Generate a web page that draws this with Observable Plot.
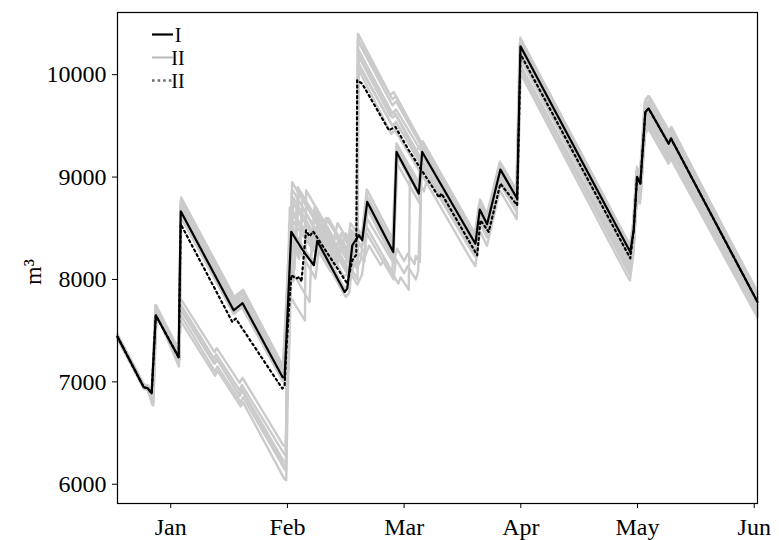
<!DOCTYPE html>
<html>
<head>
<meta charset="utf-8">
<script src="https://cdn.jsdelivr.net/npm/d3@7"></script>
<script src="https://cdn.jsdelivr.net/npm/@observablehq/plot@0.6"></script>
<style>
  html, body { margin: 0; padding: 0; background: white; }
  #chart { position: relative; width: 779px; height: 540px; }
</style>
</head>
<body>
<div id="chart"></div>
<script>
// x positions are in "months" on the evenly spaced month axis (0 = Jan, 5 = Jun)
const monthTicks = [0, 1, 2, 3, 4, 5];
const monthLabels = ["Jan", "Feb", "Mar", "Apr", "May", "Jun"];
const yTicks = [6000, 7000, 8000, 9000, 10000];
const legendLabels = ["I", "II", "II"];
const yLabel = "m³";

// Series I (black solid)
const seriesI = [[-0.456,7440],[-0.231,6947],[-0.197,6938],[-0.163,6889],[-0.128,7650],[0.068,7240],[0.086,8666],[0.539,7699],[0.616,7768],[0.959,7045],[0.976,7045],[1.033,8464],[1.141,8268],[1.227,8139],[1.256,8376],[1.490,7878],[1.513,7911],[1.556,8334],[1.584,8383],[1.612,8432],[1.641,8383],[1.684,8757],[1.907,8268],[1.935,9245],[2.126,8839],[2.155,9245],[2.568,8432],[2.611,8350],[2.648,8683],[2.711,8539],[2.825,9073],[2.968,8790],[2.997,10277],[3.938,8268],[3.967,8480],[3.996,9001],[4.024,8936],[4.067,9636],[4.095,9669],[4.266,9327],[4.287,9376],[5.028,7780]];

// Series II (black dotted)
const seriesIIdotted = [[-0.456,7440],[-0.231,6947],[-0.197,6938],[-0.163,6889],[-0.128,7650],[0.068,7240],[0.086,8540],[0.528,7585],[0.557,7618],[0.956,6935],[0.976,6960],[0.99,7300],[1.033,8041],[1.076,8009],[1.105,8025],[1.12,7976],[1.16,8480],[1.19,8420],[1.22,8470],[1.513,7960],[1.556,8188],[1.59,8240],[1.598,9945],[1.64,9913],[1.87,9457],[1.925,9490],[2.04,9262],[2.3,8800],[2.32,8840],[2.626,8236],[2.654,8578],[2.725,8464],[2.825,8936],[2.968,8725],[2.997,10200],[3.938,8207],[3.967,8480],[3.996,9001],[4.024,8936],[4.067,9636],[4.095,9669],[4.266,9327],[4.287,9376],[5.028,7780]];

// Series II ensemble (grey runs)
const run01 = [[-0.456,7465],[-0.23,6975],[-0.19,6965],[-0.15,6880],[-0.125,7745],[0.075,7300],[0.09,8800],[0.545,7830],[0.62,7900],[0.965,7150],[1.03,8600],[1.14,8420],[1.22,8290],[1.25,8520],[1.48,8030],[1.52,8060],[1.55,8480],[1.6,8400],[1.64,8440],[1.68,8880],[1.9,8400],[1.935,9330],[2.13,8930],[2.16,9350],[2.57,8520],[2.61,8450],[2.65,8780],[2.71,8640],[2.82,9150],[2.965,8870],[2.995,10360],[3.935,8330],[3.965,8560],[3.995,9100],[4.02,9020],[4.06,9720],[4.09,9790],[4.26,9420],[4.285,9470],[5.028,7880]];
const run02 = [[-0.456,7430],[-0.23,6930],[-0.2,6925],[-0.16,6860],[-0.13,7700],[0.07,7230],[0.085,8720],[0.54,7760],[0.61,7820],[0.96,7090],[1.02,8050],[1.05,7980],[1.09,8900],[1.3,8500],[1.33,8600],[1.58,8150],[1.62,8250],[1.66,8170],[1.68,8600],[1.91,8160],[1.94,8300],[2.0,8180],[2.03,8250],[2.09,8150],[2.1,8230],[2.135,8170],[2.15,9220],[2.57,8400],[2.615,8330],[2.65,8650],[2.72,8520],[2.83,9030],[2.97,8750],[3.0,10200],[3.94,8200],[3.97,8430],[4.0,8950],[4.025,8880],[4.07,9580],[4.1,9620],[4.27,9280],[4.29,9330],[5.028,7720]];
const run03 = [[-0.456,7445],[-0.23,6955],[-0.19,6945],[-0.16,6820],[-0.12,7680],[0.07,7180],[0.088,8650],[0.535,7720],[0.6,7790],[0.955,7060],[1.0,7120],[1.04,8350],[1.1,8200],[1.13,8700],[1.4,8150],[1.45,8300],[1.56,8100],[1.6,8500],[1.64,8420],[1.67,8720],[1.905,8200],[1.94,9280],[2.125,8880],[2.15,9290],[2.56,8470],[2.6,8390],[2.64,8720],[2.7,8580],[2.815,9100],[2.96,8820],[2.99,10300],[3.93,8290],[3.96,8520],[3.99,9060],[4.02,8980],[4.065,9680],[4.09,9730],[4.265,9380],[4.29,9420],[5.028,7830]];
const run04 = [[-0.456,7440],[-0.23,6945],[-0.2,6935],[-0.165,6900],[-0.13,7660],[0.065,7250],[0.086,8690],[0.54,7740],[0.615,7800],[0.96,7080],[0.98,7070],[1.035,8500],[1.14,8300],[1.23,8170],[1.26,8410],[1.49,7910],[1.515,7940],[1.555,8370],[1.64,8420],[1.685,8790],[1.905,8300],[1.935,9270],[2.125,8870],[2.155,9270],[2.57,8460],[2.61,8380],[2.648,8710],[2.71,8570],[2.825,9100],[2.968,8820],[2.997,10310],[3.938,8300],[3.967,8510],[3.996,9040],[4.024,8970],[4.067,9670],[4.095,9700],[4.266,9360],[4.287,9410],[5.028,7810]];
const run05 = [[-0.456,7420],[-0.23,6935],[-0.19,6920],[-0.15,6790],[-0.12,7720],[0.07,7210],[0.09,8760],[0.55,7800],[0.62,7870],[0.965,7120],[1.0,7150],[1.05,8800],[1.3,8300],[1.34,8450],[1.5,8150],[1.54,8550],[1.595,8460],[1.61,10180],[1.88,9600],[1.91,9640],[2.1,9250],[2.13,9300],[2.57,8420],[2.61,8340],[2.65,8690],[2.71,8550],[2.825,9090],[2.965,8800],[2.995,10250],[3.935,8250],[3.965,8470],[3.995,8990],[4.02,8930],[4.065,9620],[4.095,9660],[4.265,9320],[4.285,9370],[5.028,7770]];
const run06 = [[-0.456,7455],[-0.23,6960],[-0.2,6955],[-0.16,6870],[-0.13,7700],[0.07,7270],[0.087,8780],[0.54,7810],[0.62,7880],[0.96,7110],[1.03,8700],[1.15,8460],[1.2,8380],[1.24,8650],[1.45,8250],[1.5,8450],[1.59,8250],[1.605,10120],[1.9,9500],[1.93,9530],[2.15,9150],[2.57,8380],[2.61,8300],[2.65,8640],[2.72,8500],[2.83,9050],[2.97,8760],[3.0,10150],[3.94,8150],[3.97,8380],[4.0,8920],[4.03,8850],[4.07,9560],[4.1,9590],[4.27,9250],[4.29,9300],[5.028,7700]];
const run07 = [[-0.456,7435],[-0.23,6945],[-0.19,6935],[-0.155,6830],[-0.125,7670],[0.075,7220],[0.09,8600],[0.545,7680],[0.615,7750],[0.96,7030],[1.0,7060],[1.02,8150],[1.06,8100],[1.1,8850],[1.42,8300],[1.46,8450],[1.57,8250],[1.6,8330],[1.61,10050],[1.89,9420],[1.92,9460],[2.2,8930],[2.23,8980],[2.56,8330],[2.605,8260],[2.645,8600],[2.71,8460],[2.82,8990],[2.965,8700],[2.995,10080],[3.935,8080],[3.965,8320],[3.995,8860],[4.02,8800],[4.065,9500],[4.095,9540],[4.265,9200],[4.285,9250],[5.028,7650]];
const run08 = [[-0.456,7440],[-0.23,6950],[-0.19,6940],[-0.16,6800],[-0.13,7750],[0.065,7280],[0.08,7820],[0.375,7290],[0.395,7330],[0.59,6990],[0.615,7040],[0.965,6380],[0.985,6370],[1.04,8950],[1.3,8450],[1.35,8600],[1.55,8200],[1.57,8280],[1.6,8220],[1.605,10400],[1.88,9800],[1.91,9830],[2.2,9230],[2.57,8480],[2.61,8400],[2.65,8740],[2.71,8600],[2.825,9130],[2.97,8850],[2.998,10340],[3.94,8320],[3.97,8540],[4.0,9080],[4.025,9000],[4.07,9760],[4.1,9790],[4.27,9450],[4.29,9490],[5.028,7860]];
const run09 = [[-0.456,7425],[-0.23,6935],[-0.2,6930],[-0.15,6770],[-0.12,7700],[0.07,7170],[0.085,7700],[0.37,7180],[0.39,7230],[0.585,6880],[0.61,6930],[0.97,6220],[0.99,6210],[1.0,7850],[1.04,7800],[1.15,7600],[1.16,8870],[1.4,8400],[1.43,8550],[1.56,8300],[1.58,8370],[1.6,8330],[1.605,10330],[1.9,9700],[1.93,9740],[2.2,9200],[2.57,8450],[2.61,8370],[2.65,8700],[2.71,8560],[2.82,9110],[2.965,8830],[2.995,10290],[3.935,8280],[3.965,8500],[3.995,9030],[4.02,8960],[4.065,9700],[4.095,9730],[4.265,9400],[4.285,9440],[5.028,7800]];
const run10 = [[-0.456,7450],[-0.23,6960],[-0.19,6950],[-0.155,6860],[-0.125,7710],[0.07,7200],[0.082,7600],[0.38,7060],[0.4,7110],[0.6,6760],[0.62,6800],[0.975,6050],[0.99,6040],[1.005,8150],[1.19,7780],[1.21,8380],[1.37,8080],[1.39,8300],[1.54,8000],[1.56,8080],[1.6,8000],[1.605,10250],[1.9,9620],[1.93,9660],[2.2,9150],[2.57,8400],[2.61,8320],[2.65,8660],[2.71,8520],[2.825,9060],[2.965,8780],[2.995,10220],[3.935,8220],[3.965,8440],[3.995,8970],[4.02,8900],[4.065,9600],[4.095,9640],[4.265,9300],[4.285,9350],[5.028,7740]];
const run11 = [[-0.456,7430],[-0.23,6940],[-0.19,6930],[-0.16,6780],[-0.13,7690],[0.07,7150],[0.083,7760],[0.37,7230],[0.39,7270],[0.59,6920],[0.61,6970],[0.97,6300],[0.985,6280],[1.02,8700],[1.25,8240],[1.27,8380],[1.37,8180],[1.41,8430],[1.54,8170],[1.556,8470],[1.67,8240],[1.7,8330],[1.8,8140],[1.83,8200],[1.95,7960],[1.97,8020],[2.04,7900],[2.05,9100],[2.17,8860],[2.19,8950],[2.57,8200],[2.61,8130],[2.65,8470],[2.71,8330],[2.82,8870],[2.965,8590],[2.995,10020],[3.9,8060],[3.935,7990],[3.965,8250],[3.995,8800],[4.02,8740],[4.065,9420],[4.095,9470],[4.265,9130],[4.285,9180],[5.028,7630]];
const run12 = [[-0.456,7445],[-0.23,6955],[-0.2,6950],[-0.16,6880],[-0.13,7730],[0.07,7240],[0.086,7650],[0.38,7100],[0.4,7150],[0.6,6800],[0.62,6850],[0.975,6150],[0.99,6130],[1.03,8300],[1.06,8250],[1.08,8700],[1.3,8250],[1.33,8350],[1.43,8150],[1.46,8400],[1.6,8120],[1.63,8200],[1.66,8550],[1.9,8070],[1.93,9150],[2.13,8750],[2.155,9150],[2.57,8330],[2.61,8260],[2.65,8580],[2.71,8440],[2.82,8960],[2.965,8680],[2.995,10100],[3.935,8100],[3.965,8300],[3.995,8840],[4.02,8780],[4.065,9480],[4.095,9520],[4.265,9180],[4.285,9230],[5.028,7680]];
const run13 = [[-0.456,7450],[-0.23,6965],[-0.2,6955],[-0.16,6840],[-0.125,7725],[0.07,7260],[0.088,8740],[0.54,7790],[0.615,7860],[0.96,7120],[1.0,7140],[1.045,8650],[1.13,8480],[1.16,8560],[1.38,8120],[1.42,8260],[1.53,8040],[1.56,8400],[1.64,8450],[1.68,8820],[1.905,8350],[1.935,9300],[2.125,8900],[2.155,9310],[2.57,8490],[2.61,8420],[2.648,8750],[2.71,8610],[2.825,9130],[2.968,8850],[2.997,10330],[3.938,8310],[3.967,8530],[3.996,9070],[4.024,9000],[4.067,9700],[4.095,9740],[4.266,9400],[4.287,9440],[5.028,7850]];
const run14 = [[-0.456,7435],[-0.23,6940],[-0.2,6930],[-0.16,6810],[-0.13,7690],[0.07,7200],[0.085,8620],[0.54,7660],[0.61,7730],[0.96,7010],[0.99,7000],[1.03,8420],[1.12,8250],[1.24,8010],[1.27,8300],[1.5,7830],[1.53,7870],[1.57,8300],[1.65,8350],[1.69,8700],[1.91,8230],[1.945,9200],[2.13,8810],[2.16,9210],[2.565,8410],[2.61,8330],[2.645,8660],[2.71,8520],[2.825,9040],[2.965,8760],[2.995,10230],[3.935,8230],[3.965,8450],[3.995,8980],[4.02,8910],[4.065,9600],[4.095,9640],[4.265,9300],[4.285,9350],[5.028,7750]];
const run15 = [[-0.456,7445],[-0.23,6950],[-0.2,6945],[-0.16,6850],[-0.13,7720],[0.07,7250],[0.087,8750],[0.545,7790],[0.62,7860],[0.965,7100],[1.02,8400],[1.1,8250],[1.13,8800],[1.4,8250],[1.44,8400],[1.58,8130],[1.6,8200],[1.603,10350],[1.9,9760],[1.93,9790],[2.2,9200],[2.57,8460],[2.61,8380],[2.65,8720],[2.71,8580],[2.825,9110],[2.968,8830],[2.997,10300],[3.938,8290],[3.967,8510],[3.996,9050],[4.024,8980],[4.067,9700],[4.095,9740],[4.266,9400],[4.287,9440],[5.028,7830]];
const run16 = [[-0.456,7430],[-0.23,6940],[-0.19,6930],[-0.155,6820],[-0.125,7700],[0.07,7210],[0.086,8700],[0.54,7750],[0.615,7820],[0.96,7090],[1.01,7110],[1.05,8750],[1.27,8330],[1.3,8480],[1.52,8060],[1.55,8380],[1.6,8290],[1.607,10200],[1.9,9580],[1.93,9610],[2.18,9110],[2.57,8360],[2.61,8290],[2.65,8620],[2.71,8480],[2.825,9020],[2.965,8740],[2.995,10180],[3.935,8180],[3.965,8410],[3.995,8940],[4.02,8870],[4.065,9580],[4.095,9610],[4.265,9270],[4.285,9320],[5.028,7720]];
const run17 = [[-0.456,7440],[-0.23,6945],[-0.2,6940],[-0.16,6820],[-0.12,7710],[0.07,7220],[0.084,7720],[0.38,7180],[0.4,7220],[0.59,6860],[0.615,6910],[0.97,6180],[0.985,6170],[1.015,8550],[1.2,8180],[1.23,8700],[1.45,8270],[1.48,8350],[1.6,8100],[1.606,10100],[1.9,9500],[1.93,9540],[2.19,9030],[2.57,8300],[2.61,8230],[2.65,8560],[2.71,8420],[2.82,8950],[2.965,8670],[2.995,10090],[3.935,8120],[3.965,8360],[3.995,8900],[4.02,8830],[4.065,9530],[4.095,9570],[4.265,9230],[4.285,9280],[5.028,7680]];
const run18 = [[-0.456,7455],[-0.23,6960],[-0.2,6955],[-0.16,6870],[-0.13,7740],[0.07,7270],[0.087,8760],[0.545,7810],[0.62,7880],[0.965,7130],[1.04,8880],[1.3,8380],[1.33,8460],[1.6,7950],[1.64,8050],[1.68,8450],[1.91,8000],[1.93,8200],[2.0,8060],[2.03,8130],[2.1,8000],[2.12,8080],[2.15,9100],[2.57,8290],[2.61,8220],[2.65,8550],[2.71,8410],[2.82,8940],[2.965,8660],[2.995,10060],[3.93,8050],[3.96,8290],[3.99,8840],[4.02,8770],[4.065,9460],[4.095,9500],[4.265,9160],[4.285,9210],[5.028,7660]];

const greyRuns = [run01, run02, run03, run04, run05, run06, run07, run08, run09, run10, run11, run12, run13, run14, run15, run16, run17, run18];
const greyRows = greyRuns.flatMap((run, i) => run.map(([m, v]) => ({run: i, m, v})));
const toRows = (s) => s.map(([m, v]) => ({m, v}));

const FONT = "'Liberation Serif', 'Times New Roman', serif";
const FS = 24;
const LEGEND_FS = 20;

const chart = Plot.plot({
  width: 779,
  height: 540,
  marginLeft: 117,
  marginRight: 22,
  marginTop: 12,
  marginBottom: 37,
  style: {fontFamily: FONT, fontSize: FS + "px", background: "white", color: "black", overflow: "visible"},
  x: {type: "linear", domain: [-0.456, 5.028]},
  y: {type: "linear", domain: [5812, 10607]},
  marks: [
    Plot.line(greyRows, {x: "m", y: "v", z: "run", stroke: "#cbcbcb", strokeWidth: 2.4, curve: "linear"}),
    Plot.line(toRows(seriesI), {x: "m", y: "v", stroke: "#000", strokeWidth: 2.2}),
    Plot.line(toRows(seriesIIdotted), {x: "m", y: "v", stroke: "#000", strokeWidth: 2.2, strokeDasharray: "2,3.3"}),
    Plot.frame({stroke: "#000", strokeWidth: 1.2}),
    Plot.axisX({ticks: monthTicks, tickFormat: (d) => monthLabels[d], tickSize: 5, tickPadding: 9, label: null, fontSize: FS}),
    Plot.axisY({ticks: yTicks, tickFormat: (d) => String(d), tickSize: 5, tickPadding: 6, label: null, fontSize: FS})
  ]
});

document.getElementById("chart").appendChild(chart);

// y-axis title and in-plot legend
const svg = d3.select(chart);
svg.append("text")
  .attr("transform", "translate(33,272) rotate(-90)")
  .attr("text-anchor", "middle")
  .attr("dominant-baseline", "central")
  .style("font-family", FONT)
  .style("font-size", FS + "px")
  .text(yLabel);

const legendStyles = [
  {stroke: "#000", width: 2.2, dash: null},
  {stroke: "#b8b8b8", width: 2, dash: null},
  {stroke: "#6e6e6e", width: 2.4, dash: "2.6,3"}
];
const lg = svg.append("g");
legendStyles.forEach((s, i) => {
  const y = 34.5 + i * 23;
  const ln = lg.append("line").attr("x1", 152).attr("x2", 173).attr("y1", y).attr("y2", y)
    .attr("stroke", s.stroke).attr("stroke-width", s.width);
  if (s.dash) ln.attr("stroke-dasharray", s.dash);
  lg.append("text").attr("x", 178).attr("y", y).attr("dominant-baseline", "central")
    .style("font-family", FONT).style("font-size", LEGEND_FS + "px").text(legendLabels[i]);
});
</script>
</body>
</html>
